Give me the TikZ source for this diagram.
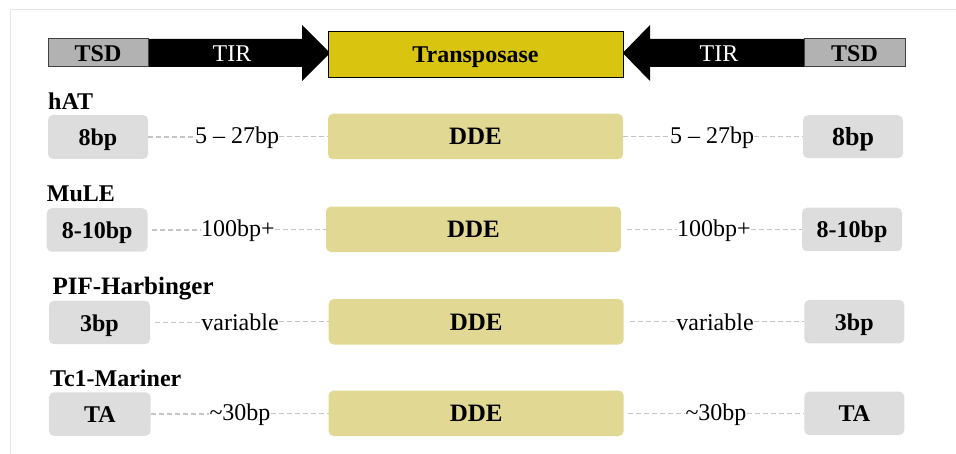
\documentclass[tikz,border=0pt]{standalone}
\usepackage{fontspec}
\setmainfont{Liberation Serif}
\begin{document}
\definecolor{tsdgray}{RGB}{178,178,178}
\definecolor{transyellow}{RGB}{217,196,16}
\definecolor{ddefill}{RGB}{224,216,147}
\definecolor{boxgray}{RGB}{221,221,221}
\definecolor{dashgray}{RGB}{196,196,196}
\definecolor{framegray}{RGB}{228,228,228}
\begin{tikzpicture}[x=1pt,y=-1pt,
  txt/.style={text height=17pt,text depth=0pt,inner sep=0pt},
  tsdbox/.style={txt,draw=black!75,line width=1pt,fill=tsdgray,minimum width=100pt,minimum height=28pt,font=\fontsize{24}{28}\selectfont\bfseries},
  transbox/.style={txt,draw=black,line width=1pt,fill=transyellow,minimum width=295pt,minimum height=45.5pt,font=\fontsize{24}{28}\selectfont\bfseries},
  tirlabel/.style={txt,text=white,font=\fontsize{24}{28}\selectfont},
  graybox/.style={txt,fill=boxgray,rounded corners=5pt,minimum width=101pt,minimum height=43.5pt,font=\fontsize{24}{28}\selectfont\bfseries},
  ddebox/.style={txt,fill=ddefill,rounded corners=5pt,minimum width=295pt,minimum height=45.5pt,font=\fontsize{25}{28}\selectfont\bfseries},
  famlabel/.style={anchor=base west,inner sep=0pt,font=\fontsize{24}{28}\selectfont\bfseries},
  gaplabel/.style={anchor=base,inner sep=0pt,font=\fontsize{24}{28}\selectfont},
  dashline/.style={draw=dashgray,line width=1.1pt,dash pattern=on 5pt off 3pt}
]
\useasboundingbox (0,0) rectangle (956,454);
% frame
\draw[framegray,line width=1pt] (10.5,454) -- (10.5,9.5) -- (956,9.5);

% top bar
\fill[black] (148,39) -- (302,39) -- (302,25) -- (330,53) -- (302,81) -- (302,67) -- (148,67) -- cycle;
\fill[black] (804,39) -- (650,39) -- (650,25) -- (622.7,53) -- (650,81) -- (650,67) -- (804,67) -- cycle;
\node[tsdbox] (tsdL) at (98,53) {TSD};
\node[tsdbox,minimum width=101pt] (tsdR) at (854.5,53) {TSD};
\node[transbox] (trans) at (475.5,54.5) {Transposase};
\node[tirlabel] (tirL) at (232,53) {TIR};
\node[tirlabel] (tirR) at (719,53) {TIR};

% row 1 hAT
\node[famlabel] (f1) at (48,110) {hAT};
\node[graybox,minimum width=100pt,minimum height=44pt] (l1) at (98,137) {8bp};
\node[ddebox] (d1) at (475.5,136.5) {DDE};
\node[graybox,minimum width=100pt,minimum height=43pt,font=\fontsize{26}{28}\selectfont\bfseries] (r1) at (853,136.7) {8bp};
\node[gaplabel] (a1) at (237,143.5) {5 – 27bp};
\node[gaplabel] (b1) at (712,143.5) {5 – 27bp};
\draw[dashline] (l1.east) -- (l1.east -| a1.west);
\draw[dashline] (a1.east |- d1.west) -- (d1.west);
\draw[dashline] (d1.east) -- (d1.east -| b1.west);
\draw[dashline] (b1.east |- r1.west) -- (r1.west);

% row 2 MuLE
\node[famlabel] (f2) at (46.7,201.7) {MuLE};
\node[graybox] (l2) at (97.2,230) {8-10bp};
\node[ddebox] (d2) at (473.5,229.3) {DDE};
\node[graybox,minimum width=100pt] (r2) at (852,229.5) {8-10bp};
\node[gaplabel] (a2) at (238,236.5) {100bp+};
\node[gaplabel] (b2) at (714,236.5) {100bp+};
\draw[dashline] ([xshift=4pt]l2.east) -- (l2.east -| a2.west);
\draw[dashline] (a2.east |- d2.west) -- (d2.west);
\draw[dashline] ([xshift=6pt]d2.east) -- (d2.east -| b2.west);
\draw[dashline] (b2.east |- r2.west) -- (r2.west);

% row 3 PIF-Harbinger
\node[famlabel,font=\fontsize{25}{28}\selectfont\bfseries] (f3) at (52.3,295) {PIF-Harbinger};
\node[graybox] (l3) at (99.5,322.5) {3bp};
\node[ddebox] (d3) at (476.2,321.8) {DDE};
\node[graybox,minimum width=100pt] (r3) at (854.3,321.7) {3bp};
\node[gaplabel] (a3) at (240,330.3) {variable};
\node[gaplabel] (b3) at (715,330.3) {variable};
\draw[dashline] ([xshift=5pt]l3.east) -- (l3.east -| a3.west);
\draw[dashline] (a3.east |- d3.west) -- (d3.west);
\draw[dashline] ([xshift=6pt]d3.east) -- (d3.east -| b3.west);
\draw[dashline] (b3.east |- r3.west) -- (r3.west);

% row 4 Tc1-Mariner
\node[famlabel] (f4) at (50,386.7) {Tc1-Mariner};
\node[graybox,minimum width=101.7pt] (l4) at (99.8,414) {TA};
\node[ddebox] (d4) at (476.2,413.3) {DDE};
\node[graybox,minimum width=100pt] (r4) at (854.3,413.3) {TA};
\node[gaplabel] (a4) at (240,420) {\textasciitilde30bp};
\node[gaplabel] (b4) at (716,420) {\textasciitilde30bp};
\draw[dashline] (l4.east) -- (l4.east -| a4.west);
\draw[dashline] (a4.east |- d4.west) -- (d4.west);
\draw[dashline] ([xshift=4pt]d4.east) -- (d4.east -| b4.west);
\draw[dashline] (b4.east |- r4.west) -- (r4.west);
\end{tikzpicture}
\end{document}
